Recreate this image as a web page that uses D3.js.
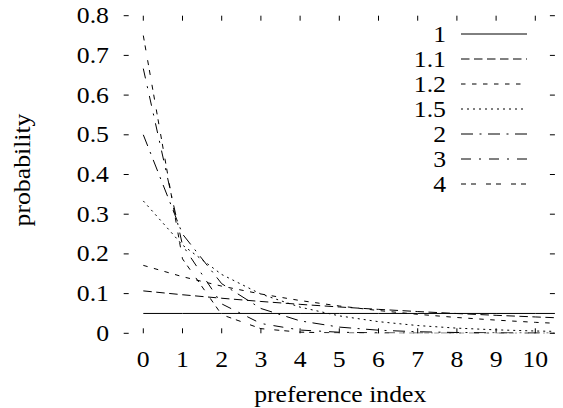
<!DOCTYPE html>
<html>
<head>
<meta charset="utf-8">
<script src="https://cdn.jsdelivr.net/npm/d3@7"></script>
<style>
  body { margin: 0; background: #fff; }
  svg { display: block; }
</style>
</head>
<body>
<div id="chart"></div>
<script>
// preference index
const xValues = [0, 1, 2, 3, 4, 5, 6, 7, 8, 9, 10, 11];
const seriesNames = ['1', '1.1', '1.2', '1.5', '2', '3', '4'];
const pr1   = [0.05, 0.05, 0.05, 0.05, 0.05, 0.05, 0.05, 0.05, 0.05, 0.05, 0.05, 0.05];
const pr1_1 = [0.1068, 0.0971, 0.0883, 0.0802, 0.0729, 0.0663, 0.0603, 0.0548, 0.0498, 0.0453, 0.0412, 0.0374];
const pr1_2 = [0.1711, 0.1426, 0.1188, 0.0990, 0.0825, 0.0688, 0.0573, 0.0478, 0.0398, 0.0332, 0.0276, 0.0230];
const pr1_5 = [0.3334, 0.2223, 0.1482, 0.0988, 0.0659, 0.0439, 0.0293, 0.0195, 0.0130, 0.0087, 0.0058, 0.0039];
const pr2   = [0.5, 0.25, 0.125, 0.0625, 0.0313, 0.0156, 0.0078, 0.0039, 0.0020, 0.0010, 0.0005, 0.0002];
const pr3   = [0.6667, 0.2222, 0.0741, 0.0247, 0.0082, 0.0027, 0.0009, 0.0003, 0.0001, 0.0000, 0.0000, 0.0000];
const pr4   = [0.75, 0.1875, 0.0469, 0.0117, 0.0029, 0.0007, 0.0002, 0.0000, 0.0000, 0.0000, 0.0000, 0.0000];
const xTicks = [0, 1, 2, 3, 4, 5, 6, 7, 8, 9, 10];
const yTicks = [0, 0.1, 0.2, 0.3, 0.4, 0.5, 0.6, 0.7, 0.8];

const series = [pr1, pr1_1, pr1_2, pr1_5, pr2, pr3, pr4];
const dashes = ['none', '8.5,4.5', '4.5,6.5', '2,4', '12,6.5,2,6.5', '10,8,2,8', '5,5,5,10'];

const W = 563, H = 408;
const plot = {left: 123.7, right: 554.9, top: 15.7, bottom: 333.3};
const tickLen = 5;
const font = 'Liberation Serif';
const fontSize = 23;
const stretch = 1.12; // glyphs in the original are a bit wider than Times

const svg = d3.select('#chart').append('svg')
    .attr('width', W)
    .attr('height', H)
    .attr('font-family', font)
    .attr('font-size', fontSize);

const x = d3.scaleLinear().domain([-0.5, 10.5]).range([plot.left, plot.right]);
const y = d3.scaleLinear().domain([0, 0.8]).range([plot.bottom, plot.top]);

function place(tx, ty, rot) {
  return `translate(${tx},${ty})` + (rot ? ` rotate(${rot})` : '') + ` scale(${stretch},1)`;
}

svg.append('clipPath').attr('id', 'clip')
  .append('rect')
    .attr('x', plot.left).attr('y', plot.top)
    .attr('width', plot.right - plot.left)
    .attr('height', plot.bottom - plot.top);

// ticks on all four sides (gnuplot style, no border)
const ticks = svg.append('g').attr('stroke', '#000').attr('stroke-width', 1);
xTicks.forEach(t => {
  ticks.append('line').attr('x1', x(t)).attr('x2', x(t))
    .attr('y1', plot.bottom).attr('y2', plot.bottom - tickLen);
  ticks.append('line').attr('x1', x(t)).attr('x2', x(t))
    .attr('y1', plot.top).attr('y2', plot.top + tickLen);
});
yTicks.forEach(t => {
  ticks.append('line').attr('x1', plot.left).attr('x2', plot.left + tickLen)
    .attr('y1', y(t)).attr('y2', y(t));
  ticks.append('line').attr('x1', plot.right).attr('x2', plot.right - tickLen)
    .attr('y1', y(t)).attr('y2', y(t));
});

svg.append('g').selectAll('text')
  .data(xTicks).join('text')
    .attr('transform', d => place(x(d), 366.5))
    .attr('text-anchor', 'middle')
    .text(d => d);

svg.append('g').selectAll('text')
  .data(yTicks).join('text')
    .attr('transform', d => place(109, y(d) + 7.5))
    .attr('text-anchor', 'end')
    .text(d => d3.format('.1~f')(d));

svg.append('text')
    .attr('transform', place(340.3, 401.5))
    .attr('text-anchor', 'middle')
    .text('preference index');

svg.append('text')
    .attr('transform', place(30, 170, -90))
    .attr('text-anchor', 'middle')
    .text('probability');

const line = d3.line()
    .x((d, i) => x(xValues[i]))
    .y(d => y(d));

svg.append('g').attr('clip-path', 'url(#clip)')
  .selectAll('path')
  .data(series).join('path')
    .attr('d', line)
    .attr('fill', 'none')
    .attr('stroke', '#000')
    .attr('stroke-width', 1)
    .attr('stroke-dasharray', (d, i) => dashes[i]);

// key
const legend = svg.append('g');
seriesNames.forEach((name, i) => {
  const ly = 34 + i * 25;
  legend.append('text')
    .attr('transform', place(446, ly + 7.5))
    .attr('text-anchor', 'end')
    .text(name);
  legend.append('line')
    .attr('x1', 461).attr('x2', 527)
    .attr('y1', ly).attr('y2', ly)
    .attr('stroke', '#000')
    .attr('stroke-width', 1)
    .attr('stroke-dasharray', dashes[i]);
});
</script>
</body>
</html>
